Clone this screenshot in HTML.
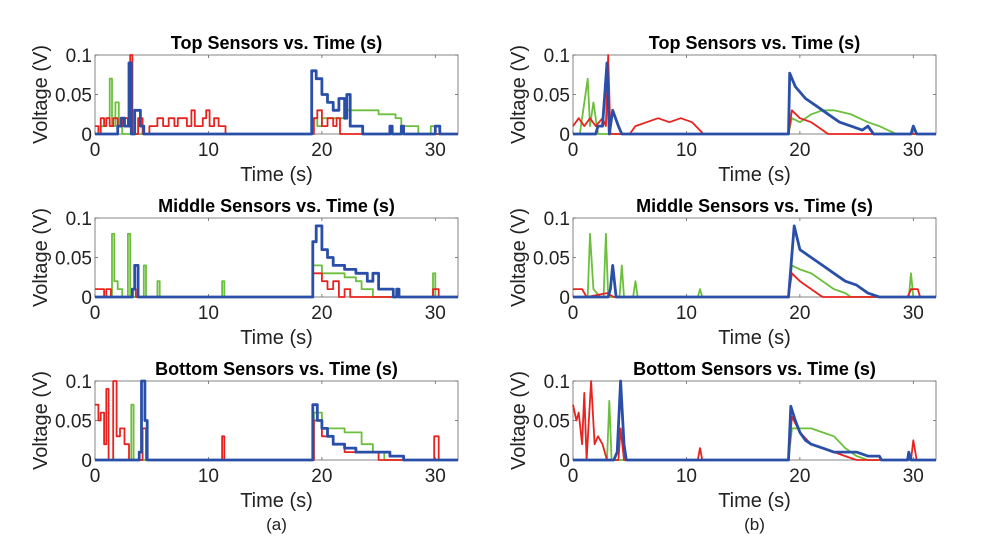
<!DOCTYPE html>
<html><head><meta charset="utf-8"><style>
html,body{margin:0;padding:0;background:#fff;}
svg{display:block;font-family:"Liberation Sans",Arial,sans-serif;}
</style></head><body>
<svg id="fig" width="993" height="545" viewBox="0 0 993 545"></svg>
<script>
// Data: [time (s), voltage (V)] pairs per series
const xTicks = [0, 10, 20, 30];
const yTicks = [0, 0.05, 0.1];
const yTickLabels = ["0", "0.05", "0.1"];
const titles = ["Top Sensors vs. Time (s)", "Middle Sensors vs. Time (s)", "Bottom Sensors vs. Time (s)"];
const captions = ["(a)", "(b)"];

const topA_red = [[0,0.01],[0.3,0],[0.5,0.02],[0.8,0.01],[1,0.02],[1.3,0.01],[1.6,0.02],[2,0.01],[2.5,0.02],[2.9,0.01],[3.1,0.1],[3.3,0],[3.8,0.02],[4.2,0],[4.8,0.01],[5.5,0.02],[6,0.01],[6.5,0.02],[7,0.01],[7.3,0.02],[7.8,0.02],[8.1,0.01],[8.5,0.03],[8.8,0.01],[9.5,0.02],[9.8,0.03],[10.1,0.01],[10.5,0.02],[10.9,0.01],[11.5,0],[19,0],[19.3,0.02],[19.6,0.03],[20,0.01],[20.5,0.02],[21,0.01],[21.3,0.02],[21.6,0],[32,0]];
const topA_green = [[0,0],[0.5,0.01],[1,0.02],[1.3,0.07],[1.5,0.01],[1.8,0.04],[2.1,0.01],[2.4,0],[19,0],[19.2,0.02],[19.6,0.01],[20,0.02],[21,0.02],[22,0.03],[24,0.03],[25,0.025],[26.5,0.02],[27,0.01],[28.5,0],[29.6,0.01],[30,0],[32,0]];
const topA_blue = [[0,0],[2,0.01],[2.3,0.02],[2.6,0.01],[3,0.09],[3.2,0],[3.5,0.03],[3.8,0.03],[4,0.01],[4.3,0],[19,0],[19.1,0.08],[19.5,0.07],[20,0.05],[20.5,0.04],[21,0.03],[21.5,0.045],[22,0.02],[22.2,0.05],[22.5,0.01],[23.2,0.01],[23.6,0],[25.8,0],[26,0.01],[26.2,0],[27,0.01],[27.2,0],[30,0.01],[30.4,0],[32,0]];

const topB_red = [[0,0.01],[0.5,0.02],[1,0.01],[1.5,0.02],[2,0.01],[2.6,0.02],[2.9,0.01],[3.1,0.1],[3.3,0],[5,0],[5.5,0.01],[6.5,0.015],[7.5,0.02],[8.5,0.015],[9.5,0.02],[10.5,0.015],[11.5,0],[19,0],[19.3,0.03],[20,0.02],[21,0.015],[22,0.005],[22.5,0],[32,0]];
const topB_green = [[0,0],[0.6,0],[0.8,0.02],[1.3,0.07],[1.5,0.01],[1.8,0.04],[2.2,0],[19,0],[19.3,0.02],[20,0.015],[21,0.025],[22,0.03],[23,0.03],[24.5,0.025],[26,0.015],[27,0.01],[28.5,0],[32,0]];
const topB_blue = [[0,0],[2,0],[2.2,0.01],[2.6,0.01],[3,0.09],[3.2,0],[3.5,0.03],[4,0.01],[4.3,0],[19,0],[19.1,0.077],[19.6,0.06],[20.5,0.045],[21.5,0.035],[22.5,0.025],[23.5,0.015],[24.5,0.01],[25.5,0.005],[26,0.01],[26.5,0],[29.8,0],[30,0.01],[30.3,0],[32,0]];

const midA_red = [[0,0.01],[0.6,0.01],[0.8,0],[1,0.01],[1.4,0],[3,0],[3.3,0.01],[3.6,0],[19,0],[19.2,0.03],[20,0.02],[20.5,0.01],[21,0.02],[21.5,0],[22,0.01],[22.5,0],[29.5,0],[29.8,0.01],[30.3,0],[32,0]];
const midA_green = [[0,0],[1.5,0.08],[1.7,0.02],[2,0.01],[2.4,0],[2.9,0.08],[3.1,0],[4.3,0.04],[4.5,0],[5.5,0.02],[5.7,0],[11,0],[11.2,0.02],[11.4,0],[19,0],[19.2,0.04],[20,0.03],[21,0.03],[22,0.025],[23,0.02],[23.5,0.01],[24.5,0],[29.6,0],[29.8,0.03],[30,0],[32,0]];
const midA_blue = [[0,0],[3.3,0.01],[3.5,0.04],[3.8,0],[19,0],[19.2,0.07],[19.5,0.09],[20,0.06],[20.5,0.05],[21,0.04],[22,0.035],[23,0.03],[24,0.02],[24.5,0.03],[25,0.01],[26,0.01],[26.3,0],[26.6,0.01],[26.8,0],[32,0]];

const midB_red = [[0,0.01],[0.8,0.01],[1.2,0],[3,0.005],[3.6,0],[19,0],[19.3,0.03],[20,0.02],[21,0.01],[21.5,0.005],[22,0],[29.5,0],[29.8,0.01],[30.4,0.01],[30.6,0],[32,0]];
const midB_green = [[0,0],[1.3,0],[1.5,0.08],[1.8,0.01],[2.4,0],[2.7,0],[2.9,0.08],[3.1,0],[4.1,0],[4.3,0.04],[4.5,0],[5.3,0],[5.5,0.02],[5.7,0],[11,0],[11.2,0.01],[11.4,0],[19,0],[19.3,0.04],[20,0.035],[21,0.03],[22,0.02],[23,0.01],[24,0.005],[24.5,0],[29.6,0],[29.8,0.03],[30,0],[32,0]];
const midB_blue = [[0,0],[3.1,0],[3.3,0.01],[3.5,0.04],[3.8,0],[19,0],[19.5,0.09],[20,0.06],[21,0.05],[22,0.04],[23,0.03],[24,0.02],[25,0.015],[26,0.005],[27,0],[32,0]];

const botA_red = [[0,0.07],[0.3,0.05],[0.5,0.06],[0.8,0.02],[1,0.09],[1.2,0],[1.6,0.1],[1.9,0.03],[2.2,0.04],[2.6,0.02],[3,0],[4,0],[4.2,0.04],[4.5,0],[11,0],[11.2,0.03],[11.4,0],[19,0],[19.3,0.05],[20,0.03],[21,0.02],[22,0.01],[23,0.01],[24,0.01],[25,0],[29.6,0],[29.9,0.03],[30.3,0],[32,0]];
const botA_green = [[0,0],[3,0],[3.2,0.07],[3.4,0],[19,0],[19.3,0.06],[20,0.04],[21,0.04],[22,0.035],[23,0.035],[23.5,0.02],[24.5,0.01],[25.5,0],[32,0]];
const botA_blue = [[0,0],[3.6,0],[3.9,0.01],[4.1,0.1],[4.4,0.05],[4.6,0],[19,0],[19.2,0.07],[19.6,0.05],[20,0.04],[20.5,0.03],[21,0.02],[22,0.015],[23,0.01],[24,0.01],[25,0.01],[26,0.005],[27,0.005],[27.2,0],[32,0]];

const botB_red = [[0,0.07],[0.3,0.05],[0.5,0.06],[0.8,0.02],[1,0.085],[1.2,0],[1.6,0.1],[1.9,0.02],[2.2,0.03],[2.6,0.02],[3,0],[4,0],[4.2,0.04],[4.5,0],[11,0],[11.2,0.015],[11.4,0],[19,0],[19.3,0.055],[20,0.035],[21,0.02],[22,0.015],[23,0.01],[24,0.005],[25,0],[29.8,0],[30,0.025],[30.3,0],[32,0]];
const botB_green = [[0,0],[3,0],[3.2,0.075],[3.4,0],[19,0],[19.3,0.04],[20,0.04],[21,0.04],[22,0.035],[23,0.03],[24,0.015],[25,0.005],[26,0],[32,0]];
const botB_blue = [[0,0],[3.6,0],[3.9,0.01],[4.2,0.1],[4.5,0.02],[4.7,0],[19,0],[19.2,0.068],[19.6,0.05],[20,0.035],[20.5,0.025],[21,0.02],[22,0.015],[23,0.01],[24,0.01],[25,0.01],[26,0.005],[27,0.005],[27.2,0],[29.5,0],[29.6,0.01],[29.8,0],[32,0]];

const panels = [
  {col:0,row:0,red:topA_red,green:topA_green,blue:topA_blue},
  {col:1,row:0,red:topB_red,green:topB_green,blue:topB_blue},
  {col:0,row:1,red:midA_red,green:midA_green,blue:midA_blue},
  {col:1,row:1,red:midB_red,green:midB_green,blue:midB_blue},
  {col:0,row:2,red:botA_red,green:botA_green,blue:botA_blue},
  {col:1,row:2,red:botB_red,green:botB_green,blue:botB_blue}
];

const NS = "http://www.w3.org/2000/svg";
const svg = document.getElementById("fig");
const colX = [95, 573], rowY = [55, 218, 381], W = 363, H = 79, XMAX = 32, YMAX = 0.1;
function mk(tag, attrs, parent){const e=document.createElementNS(NS,tag);for(const k in attrs)e.setAttribute(k,attrs[k]);(parent||svg).appendChild(e);return e;}
const secNames=["top","middle","bottom"];
panels.forEach(p=>{
  const x0=colX[p.col], y0=rowY[p.row];
  const sx=t=>x0+t/XMAX*W, sy=v=>y0+H-v/YMAX*H;
  const step = p.col===0;
  const g=mk("g",{});
  
  
  mk("rect",{x:x0,y:y0,width:W,height:H,fill:"#fff",stroke:"#666","stroke-width":0.8},g);
  xTicks.forEach(t=>{
    mk("line",{x1:sx(t),x2:sx(t),y1:y0+H,y2:y0+H-3,stroke:"#666","stroke-width":0.8},g);
    mk("line",{x1:sx(t),x2:sx(t),y1:y0,y2:y0+3,stroke:"#666","stroke-width":0.8},g);
    const tx=mk("text",{x:sx(t),y:y0+H+22,"font-size":19,"text-anchor":"middle",fill:"#222"},g);tx.textContent=t;
    
    
  });
  yTicks.forEach((v,i)=>{
    mk("line",{x1:x0,x2:x0+3,y1:sy(v),y2:sy(v),stroke:"#666","stroke-width":0.8},g);
    mk("line",{x1:x0+W,x2:x0+W-3,y1:sy(v),y2:sy(v),stroke:"#666","stroke-width":0.8},g);
    const tx=mk("text",{x:x0-3,y:sy(v)+7,"font-size":19,"text-anchor":"end",fill:"#222"},g);tx.textContent=yTickLabels[i];
    
    
  });
  [["green",p.green,"#6cbf3c",1.8],["red",p.red,"#e8231f",1.8],["blue",p.blue,"#2a4fa8",2.8]].forEach(([n,d,c,w])=>{
    const pts=[];
    d.forEach((q,i)=>{
      if(step && i>0) pts.push(sx(q[0]).toFixed(1)+","+sy(d[i-1][1]).toFixed(1));
      pts.push(sx(q[0]).toFixed(1)+","+sy(q[1]).toFixed(1));
    });
    const pl=mk("polyline",{points:pts.join(" "),fill:"none",stroke:c,"stroke-width":w,"stroke-linejoin":"round"},g);
    
    
  });
  const ti=mk("text",{x:x0+W/2,y:y0-6,"font-size":18,"font-weight":"bold","text-anchor":"middle",fill:"#000"},g);ti.textContent=titles[p.row];
  
  
  const xl=mk("text",{x:x0+W/2,y:y0+H+47,"font-size":20,"text-anchor":"middle",fill:"#222"},g);xl.textContent="Time (s)";
  
  
  const yl=mk("text",{x:0,y:0,"font-size":20,"text-anchor":"middle",fill:"#222",transform:`translate(${x0-48},${y0+H/2}) rotate(-90)`},g);yl.textContent="Voltage (V)";
  
  
});
captions.forEach((c,i)=>{
  const t=mk("text",{x:colX[i]+W/2,y:530,"font-size":17,"text-anchor":"middle",fill:"#222"});t.textContent=c;
  
  
});
</script>
</body></html>
